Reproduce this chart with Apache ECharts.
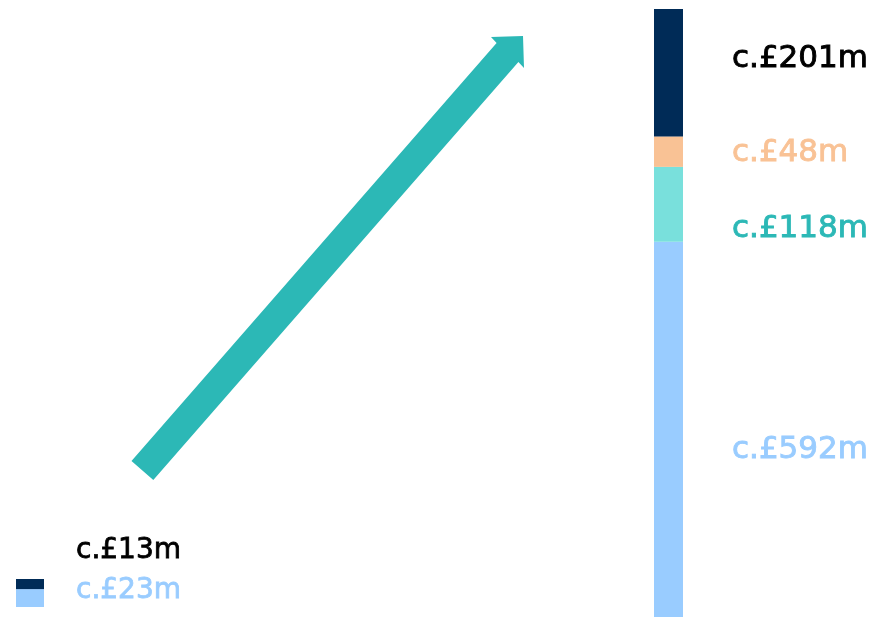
<!DOCTYPE html>
<html><head><meta charset="utf-8">
<script src="https://cdn.jsdelivr.net/npm/echarts@6/dist/echarts.min.js"></script>
<style>html,body{margin:0;padding:0;background:#fff}#c{width:879px;height:617px}</style>
</head><body><div id="c"></div>
<script>
// Data
const categories = ['Before', 'After'];
const segmentNames = ['Light blue', 'Teal', 'Peach', 'Navy'];
const beforeValues = [23, null, null, 13];
const afterValues = [592, 118, 48, 201];

const barColors = ['#99ccff', '#79e0dc', '#f9c295', '#002b57'];
const textColors = ['#99ccff', '#2cb8b6', '#f9c295', '#000000'];
const beforeOffsets = [[0, -7], [0, 0], [0, 0], [0, -33]];
const afterOffsets = [[0, 21], [0, 25], [0, 1], [0, -14]];

const FONT = 'DejaVu Sans';
const series = [];
segmentNames.forEach((name, i) => {
  if (beforeValues[i] != null) {
    series.push({
      type: 'bar', name, stack: 'before', xAxisIndex: 0, yAxisIndex: 0,
      barWidth: '100%', data: [beforeValues[i]],
      itemStyle: { color: barColors[i] },
      label: { show: true, position: 'right', distance: 32, offset: beforeOffsets[i],
        formatter: p => 'c.£' + p.value + 'm', color: textColors[i],
        textBorderColor: textColors[i], textBorderWidth: 0.8,
        fontFamily: FONT, fontSize: 28 }
    });
  }
  series.push({
    type: 'bar', name, stack: 'after', xAxisIndex: 1, yAxisIndex: 1,
    barWidth: '100%', data: [afterValues[i]],
    itemStyle: { color: barColors[i] },
    label: { show: true, position: 'right', distance: 49, offset: afterOffsets[i],
      formatter: p => 'c.£' + p.value + 'm', color: textColors[i],
      textBorderColor: textColors[i], textBorderWidth: 0.9,
      fontFamily: FONT, fontSize: 31 }
  });
});
const sum = a => a.reduce((s, v) => s + (v || 0), 0);

const chart = echarts.init(document.getElementById('c'), null, { renderer: 'canvas' });
chart.setOption({
  animation: false,
  backgroundColor: '#ffffff',
  grid: [
    { left: 16, width: 28, top: 579, height: 28 },
    { left: 654, width: 29, top: 9, height: 608 }
  ],
  xAxis: [
    { type: 'category', gridIndex: 0, data: [categories[0]], show: false },
    { type: 'category', gridIndex: 1, data: [categories[1]], show: false }
  ],
  yAxis: [
    { type: 'value', gridIndex: 0, min: 0, max: sum(beforeValues), show: false },
    { type: 'value', gridIndex: 1, min: 0, max: sum(afterValues), show: false }
  ],
  graphic: [{
    type: 'polygon', z: 10,
    shape: { points: [[131.5, 461], [496.6, 43], [491, 37], [523, 36], [524, 68], [518.4, 62], [153.3, 480]] },
    style: { fill: '#2cb8b6' }
  }],
  series
});
</script></body></html>
